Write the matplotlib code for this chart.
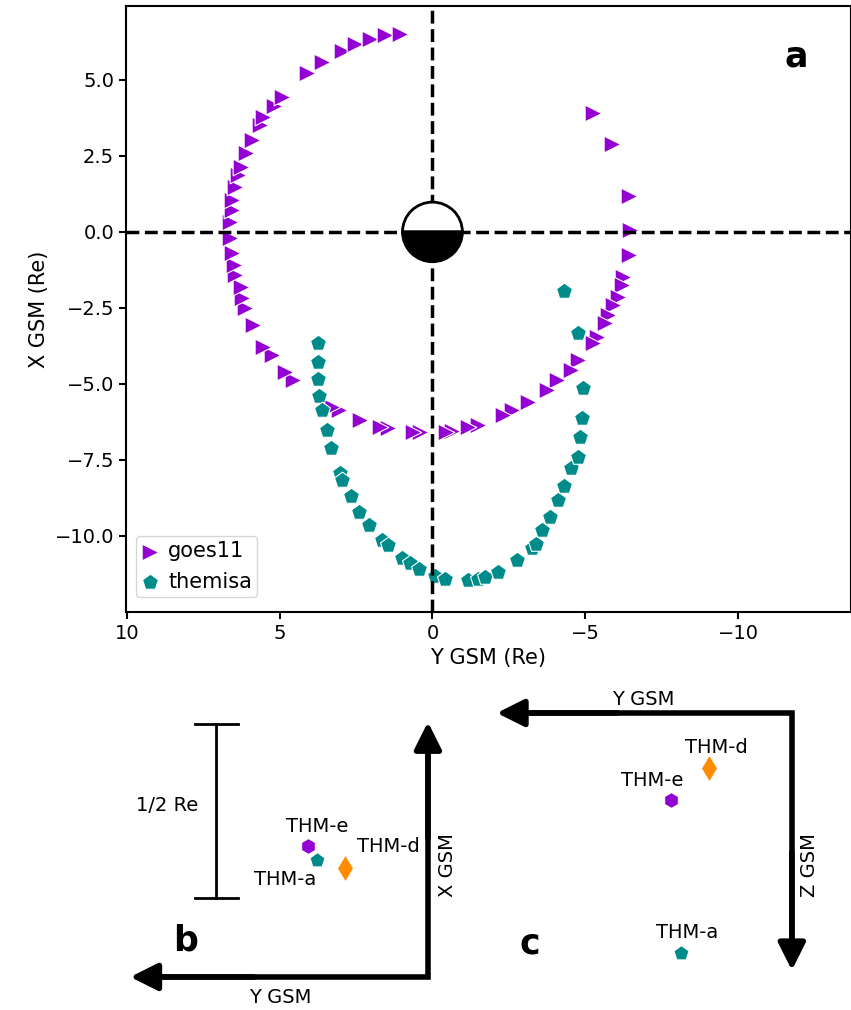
import numpy as np
import matplotlib
matplotlib.use("Agg")
import matplotlib.pyplot as plt
from matplotlib.patches import Wedge

# goes11 track in GSM (Re) (Y, X)
goes_y = [-5.24, -5.89, -6.42, -6.48, -6.45, -6.25, -6.22, -6.09, -5.92, -5.76,
          -5.66, -5.40, -5.24, -4.78, -4.52, -4.09, -3.76, -3.14, -2.60, -2.32,
          -1.50, -1.15, -0.65, -0.43, 0.40, 0.62, 1.45, 1.70, 2.36, 3.05,
          3.30, 4.55, 4.81, 5.24, 5.53, 5.86, 6.12, 6.22, 6.28, 6.45,
          6.51, 6.55, 6.61, 6.61, 6.55, 6.55, 6.45, 6.38, 6.28, 6.09,
          5.89, 5.63, 5.53, 5.17, 4.91, 4.09, 3.60, 2.95, 2.52, 2.03,
          1.54, 1.05]
goes_x = [3.91, 2.89, 1.18, 0.07, -0.76, -1.48, -1.74, -2.14, -2.40, -2.73,
          -3.00, -3.45, -3.65, -4.21, -4.54, -4.87, -5.20, -5.59, -5.85, -6.02,
          -6.35, -6.41, -6.55, -6.58, -6.58, -6.58, -6.45, -6.41, -6.18, -5.85,
          -5.75, -4.87, -4.60, -4.05, -3.78, -3.06, -2.50, -2.17, -1.81, -1.41,
          -1.09, -0.69, -0.20, 0.33, 0.72, 1.05, 1.48, 1.88, 2.14, 2.60,
          3.03, 3.52, 3.78, 4.14, 4.44, 5.23, 5.59, 5.95, 6.18, 6.35,
          6.48, 6.51]

# themisa track (Y, X)
thema_y = [3.73, 3.73, 3.73, 3.70, 3.63, 3.44, 3.31, 3.04, 2.95, 2.68,
           2.39, 2.09, 1.64, 1.45, 0.98, 0.75, 0.45, -0.10, -0.40, -1.15,
           -1.50, -1.73, -2.13, -2.78, -3.27, -3.40, -3.60, -3.86, -4.12, -4.32,
           -4.55, -4.75, -4.84, -4.91, -4.94, -4.75, -4.32]
thema_x = [-3.65, -4.28, -4.84, -5.39, -5.86, -6.51, -7.10, -7.93, -8.15, -8.68,
           -9.21, -9.64, -10.13, -10.30, -10.72, -10.90, -11.10, -11.32, -11.40, -11.45,
           -11.40, -11.35, -11.18, -10.79, -10.39, -10.25, -9.80, -9.38, -8.82, -8.36,
           -7.76, -7.40, -6.74, -6.12, -5.13, -3.32, -1.94]

# relative probe positions for panels b and c (Re)
probes = ["THM-e", "THM-a", "THM-d"]
probe_y = [0.346, 0.320, 0.238]
probe_x = [0.376, 0.336, 0.313]
probe_z = [0.250, 0.690, 0.158]
probe_colors = ["darkviolet", "darkcyan", "darkorange"]
probe_markers = ["h", "p", "d"]
probe_sizes = [130, 130, 190]

fig = plt.figure(figsize=(8.51, 10.10), dpi=100)

# ---- panel a
ax = fig.add_axes([126/851, 398/1010, 725/851, 606/1010])
ax.scatter(goes_y, goes_x, marker=">", s=145, color="darkviolet",
           edgecolors="white", linewidths=0.8, label="goes11", zorder=2)
ax.scatter(thema_y, thema_x, marker="p", s=145, color="darkcyan",
           edgecolors="white", linewidths=0.8, label="themisa", zorder=2)
ax.axhline(0, color="k", ls="--", lw=2.5, zorder=3)
ax.axvline(0, color="k", ls="--", lw=2.5, zorder=3)
ax.add_patch(Wedge((0, 0), 0.98, 0, 180, fc="white", ec="black", lw=2, zorder=4))
ax.add_patch(Wedge((0, 0), 0.98, 180, 360, fc="black", ec="black", lw=2, zorder=4))
ax.set_xlim(10.03, -13.7)
ax.set_ylim(-12.5, 7.43)
ax.set_xticks([10, 5, 0, -5, -10])
ax.set_yticks([5, 2.5, 0, -2.5, -5, -7.5, -10])
ax.set_yticklabels(["5.0", "2.5", "0.0", "\u22122.5", "\u22125.0", "\u22127.5", "\u221210.0"])
ax.tick_params(labelsize=14, length=5, width=1.5)
for sp in ax.spines.values():
    sp.set_linewidth(1.5)
ax.set_xlabel("Y GSM (Re)", fontsize=15)
ax.set_ylabel("X GSM (Re)", fontsize=15)
ax.legend(loc="lower left", bbox_to_anchor=(10/725, 15/606), borderaxespad=0,
          fontsize=15, handlelength=0.8, handletextpad=0.5, borderpad=0.25)
ax.text(0.925, 0.916, "a", transform=ax.transAxes, fontsize=25,
        fontweight="bold", ha="center", va="center")

arrow_kw = dict(arrowstyle="-|>,head_length=1.1,head_width=0.55", lw=4,
                color="k", shrinkA=0, shrinkB=0, mutation_scale=15)

# ---- panel b (Y left, X up)
axb = fig.add_axes([100/851, 0, 370/851, 320/1010])
axb.set_xlim(0.943, -0.121)
axb.set_ylim(-0.095, 0.825)
axb.axis("off")
axb.plot([0.80, 0, 0], [0, 0, 0.68], color="k", lw=4, solid_joinstyle="miter")
axb.annotate("", xy=(0.856, 0), xytext=(0.5, 0), arrowprops=arrow_kw)
axb.annotate("", xy=(0, 0.733), xytext=(0, 0.4), arrowprops=arrow_kw)
axb.plot([0.609, 0.609], [0.227, 0.727], color="k", lw=2)
axb.plot([0.547, 0.671], [0.727, 0.727], color="k", lw=2)
axb.plot([0.547, 0.671], [0.227, 0.227], color="k", lw=2)
for i in range(3):
    axb.scatter(probe_y[i], probe_x[i], marker=probe_markers[i], s=probe_sizes[i],
                color=probe_colors[i], edgecolors="white", linewidths=0.8, zorder=3)
axb.text(0.75, 0.494, "1/2 Re", fontsize=14, ha="center", va="center")
axb.text(0.319, 0.434, "THM-e", fontsize=14, ha="center", va="center")
axb.text(0.115, 0.374, "THM-d", fontsize=14, ha="center", va="center")
axb.text(0.411, 0.279, "THM-a", fontsize=14, ha="center", va="center")
axb.text(0.698, 0.106, "b", fontsize=25, fontweight="bold", ha="center", va="center")
axb.text(0.425, -0.06, "Y GSM", fontsize=14, ha="center", va="center")
axb.text(-0.055, 0.322, "X GSM", fontsize=14, ha="center", va="center", rotation=90)

# ---- panel c (Y left, Z down)
axc = fig.add_axes([470/851, 0, 381/851, 320/1010])
axc.set_xlim(0.925, -0.170)
axc.set_ylim(0.853, -0.066)
axc.axis("off")
axc.plot([0.79, 0, 0], [0, 0, 0.68], color="k", lw=4, solid_joinstyle="miter")
axc.annotate("", xy=(0.848, 0), xytext=(0.5, 0), arrowprops=arrow_kw)
axc.annotate("", xy=(0, 0.739), xytext=(0, 0.4), arrowprops=arrow_kw)
for i in range(3):
    axc.scatter(probe_y[i], probe_z[i], marker=probe_markers[i], s=probe_sizes[i],
                color=probe_colors[i], edgecolors="white", linewidths=0.8, zorder=3)
axc.text(0.428, -0.04, "Y GSM", fontsize=14, ha="center", va="center")
axc.text(0.216, 0.10, "THM-d", fontsize=14, ha="center", va="center")
axc.text(0.402, 0.193, "THM-e", fontsize=14, ha="center", va="center")
axc.text(0.302, 0.629, "THM-a", fontsize=14, ha="center", va="center")
axc.text(0.753, 0.661, "c", fontsize=25, fontweight="bold", ha="center", va="center")
axc.text(-0.052, 0.437, "Z GSM", fontsize=14, ha="center", va="center", rotation=90)

fig.savefig("out.png", dpi=100)
